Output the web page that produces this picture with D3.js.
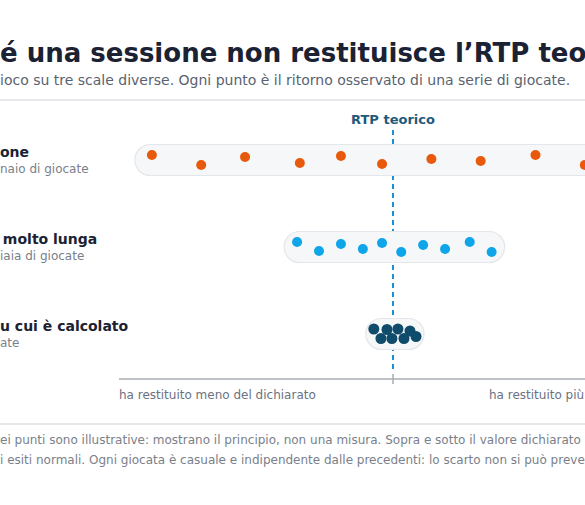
<!DOCTYPE html>
<html><head><meta charset="utf-8">
<script src="https://cdn.jsdelivr.net/npm/d3@7"></script>
<style>body{margin:0;background:#fff;overflow:hidden}svg{display:block;font-family:"DejaVu Sans",sans-serif}</style>
</head><body>
<script>
const rowTitles = ["Una sessione", "Una sessione molto lunga", "Il volume su cui è calcolato"];
const rowSubs = ["Un centinaio di giocate", "Migliaia di giocate", "Milioni di giocate"];
const rowColors = ["#e8590c", "#0ea5e9", "#0f4c6b"];
const devSession = [-8.8,-7.0,-5.4,-3.4,-1.9,-0.4,1.4,3.2,5.2,7.0,8.6];
const laneSession = [-1,1,-0.6,0.6,-0.8,0.8,-0.2,0.2,-1,1,-0.5];
const devLong = [-3.5,-2.7,-1.9,-1.1,-0.4,0.3,1.1,1.9,2.8,3.6];
const laneLong = [-1,0.8,-0.6,0.4,-0.8,1,-0.4,0.4,-1,1];
const devVolume = [-0.7,-0.44,-0.22,-0.04,0.18,0.4,0.62,0.84];
const laneVolume = [-1,0.9,-0.9,0.9,-1,0.9,-0.6,0.5];
const axisLabels = ["ha restituito meno del dichiarato", "ha restituito più del dichiarato"];
const title = "Perché una sessione non restituisce l’RTP teorico";
const subtitle = "Lo stesso gioco su tre scale diverse. Ogni punto è il ritorno osservato di una serie di giocate.";
const note1 = "Le posizioni dei punti sono illustrative: mostrano il principio, non una misura. Sopra e sotto il valore dichiarato";
const note2 = "ci sono tanti esiti normali. Ogni giocata è casuale e indipendente dalle precedenti: lo scarto non si può prevedere.";

const rows = [
  {dev: devSession, lane: laneSession},
  {dev: devLong, lane: laneLong},
  {dev: devVolume, lane: laneVolume}
];
const W = 585, H = 505;
const svg = d3.select("body").append("svg").attr("width", W).attr("height", H);
const x = d3.scaleLinear().domain([-10, 10]).range([119, 667]);
const y = d3.scalePoint().domain(rowTitles).range([160, 334]);

function clippedText(txt, prefixLen, xVisible, yPos, size, weight, fill) {
  const t = svg.append("text").attr("y", yPos).attr("font-size", size).attr("font-weight", weight).attr("fill", fill).text(txt.slice(0, prefixLen));
  const w = t.node().getComputedTextLength();
  t.text(txt).attr("x", xVisible - w);
  return t;
}
clippedText(title, 5, 0, 62, 26, "bold", "#1a2233");
clippedText(subtitle, 11, 0, 85, 14, "normal", "#5a6270");
svg.append("line").attr("x1", 0).attr("x2", W).attr("y1", 100).attr("y2", 100).attr("stroke", "#e6e8eb").attr("stroke-width", 2);
svg.append("line").attr("x1", 0).attr("x2", W).attr("y1", 424).attr("y2", 424).attr("stroke", "#e6e8eb").attr("stroke-width", 2);

svg.append("line").attr("x1", x(0)).attr("x2", x(0)).attr("y1", 130).attr("y2", 370)
  .attr("stroke", "#1e8fd0").attr("stroke-width", 2).attr("stroke-dasharray", "5,4");
svg.append("text").attr("x", x(0)).attr("y", 124).attr("text-anchor", "middle").attr("font-size", 13).attr("font-weight", "bold").attr("fill", "#1f5a7a").text("RTP teorico");

const rowLabelPrefix = [9, 13, 11];
const subPrefix = [8, 4, 15];
const pad = [17, 13, 8];
rows.forEach((r, i) => {
  const cy = y(rowTitles[i]);
  const x0 = x(d3.min(r.dev)) - pad[i], x1 = x(d3.max(r.dev)) + pad[i];
  const ph = 31;
  svg.append("rect").attr("x", x0).attr("y", cy - ph / 2).attr("width", x1 - x0).attr("height", ph).attr("rx", ph / 2)
    .attr("fill", "#f6f7f9").attr("stroke", "#e3e6ea").attr("stroke-width", 1.2);
  const rad = i === 2 ? 5.5 : 5;
  svg.selectAll(null).data(r.dev).enter().append("circle")
    .attr("cx", d => x(d)).attr("cy", (d, k) => cy + r.lane[k] * 5).attr("r", rad).attr("fill", rowColors[i]);
  clippedText(rowTitles[i], rowLabelPrefix[i], i === 1 ? -2 : 0, cy - 3, 14, "bold", "#1a2233");
  clippedText(rowSubs[i], subPrefix[i], 0, cy + 13, 12, "normal", "#7a808a");
});

const ay = 379;
svg.append("line").attr("x1", x(-10)).attr("x2", W).attr("y1", ay).attr("y2", ay).attr("stroke", "#a9aeb5").attr("stroke-width", 1.5);
svg.append("line").attr("x1", x(0)).attr("x2", x(0)).attr("y1", ay - 5).attr("y2", ay + 5).attr("stroke", "#a9aeb5").attr("stroke-width", 1.5);
svg.append("text").attr("x", x(-10)).attr("y", ay + 20).attr("font-size", 12).attr("fill", "#6b7280").text(axisLabels[0]);
svg.append("text").attr("x", 489).attr("y", ay + 20).attr("font-size", 12).attr("fill", "#6b7280").text(axisLabels[1]);

clippedText(note1, 14, 0, 444, 12, "normal", "#7a808a");
clippedText(note2, 12, 0, 464, 12, "normal", "#7a808a");
</script>
</body></html>
